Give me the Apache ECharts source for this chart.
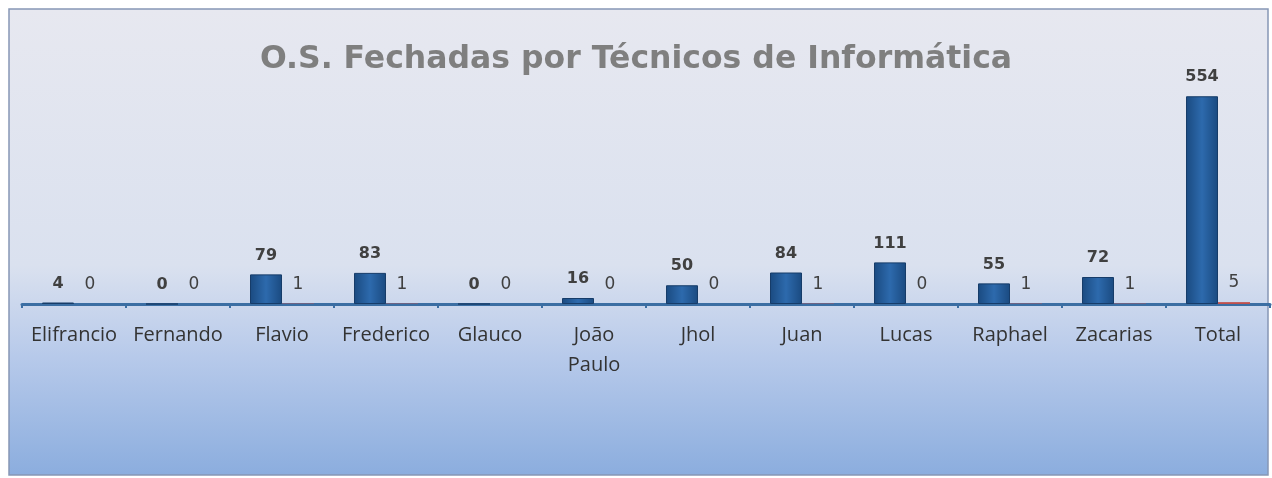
<!DOCTYPE html>
<html lang="pt">
<head>
    <meta charset="UTF-8">
    <title>O.S. Fechadas por Técnicos de Informática</title>
    <style>
        html, body { margin: 0; padding: 0; background: #fff; }
        #chart { width: 1272px; height: 478px; }
    </style>
</head>
<body>
    <div id="chart"></div>
    <script src="https://cdn.jsdelivr.net/npm/echarts@6/dist/echarts.min.js"></script>
    <script>
        // dados
        var tecnicos = ['Elifrancio', 'Fernando', 'Flavio', 'Frederico', 'Glauco', 'João Paulo',
            'Jhol', 'Juan', 'Lucas', 'Raphael', 'Zacarias', 'Total'];
        var fechadas = [4, 0, 79, 83, 0, 16, 50, 84, 111, 55, 72, 554];
        var outras = [0, 0, 1, 1, 0, 0, 0, 1, 0, 1, 1, 5];

        var mCharts = echarts.init(document.getElementById('chart'));

        var option = {
            backgroundColor: '#fff',
            graphic: [{
                type: 'rect',
                z: -10,
                shape: { x: 9, y: 9, width: 1259, height: 466 },
                style: {
                    fill: new echarts.graphic.LinearGradient(0, 0, 0, 1, [
                        { offset: 0, color: '#e7e8f0' },
                        { offset: 0.55, color: '#dae1ef' },
                        { offset: 0.75, color: '#b6c9ea' },
                        { offset: 1, color: '#8badde' }
                    ]),
                    stroke: '#8797b5',
                    lineWidth: 1.5
                }
            }],
            title: {
                text: 'O.S. Fechadas por Técnicos de Informática',
                left: 'center',
                top: 39,
                textStyle: {
                    fontFamily: 'DejaVu Sans',
                    fontSize: 31.5,
                    fontWeight: 'bold',
                    color: '#7f7f7f'
                }
            },
            grid: {
                left: 22,
                right: 2,
                top: 79,
                bottom: 174
            },
            xAxis: {
                type: 'category',
                data: tecnicos,
                axisLine: { lineStyle: { color: '#3b6ea3', width: 3 } },
                axisTick: { show: true, length: 4, lineStyle: { color: '#3b6ea3', width: 2 } },
                axisLabel: {
                    interval: 0,
                    margin: 16,
                    fontFamily: 'Open Sans',
                    fontSize: 20,
                    lineHeight: 30,
                    color: '#333',
                    formatter: function (v) {
                        return v.replace(' ', '\n');
                    }
                }
            },
            yAxis: {
                type: 'value',
                min: 0,
                max: 600,
                show: false,
                splitLine: { show: false }
            },
            series: [
                {
                    name: 'Fechadas',
                    type: 'bar',
                    barWidth: 32,
                    barGap: '0%',
                    data: fechadas,
                    itemStyle: {
                        color: new echarts.graphic.LinearGradient(0, 0, 1, 0, [
                            { offset: 0, color: '#1a4a80' },
                            { offset: 0.5, color: '#2d6aad' },
                            { offset: 1, color: '#1a4a80' }
                        ]),
                        borderColor: '#163c69',
                        borderWidth: 1
                    },
                    label: {
                        show: true,
                        position: 'top',
                        distance: 11,
                        fontFamily: 'DejaVu Sans',
                        fontSize: 16,
                        fontWeight: 'bold',
                        color: '#404040'
                    }
                },
                {
                    name: 'Outras',
                    type: 'bar',
                    barWidth: 32,
                    data: outras,
                    itemStyle: { color: '#c0504d' },
                    label: {
                        show: true,
                        position: 'top',
                        distance: 11,
                        fontFamily: 'DejaVu Sans',
                        fontSize: 17,
                        color: '#404040'
                    }
                }
            ]
        };

        mCharts.setOption(option);
    </script>
</body>
</html>
